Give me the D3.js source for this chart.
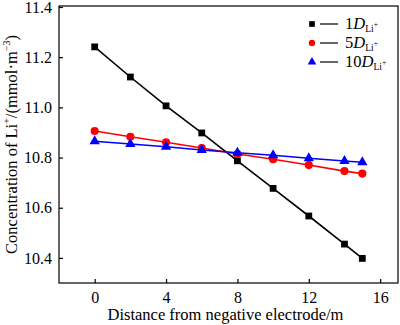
<!DOCTYPE html>
<html>
<head>
<meta charset="utf-8">
<script src="https://cdn.jsdelivr.net/npm/d3@7"></script>
<style>
  body { margin: 0; background: #fff; }
</style>
</head>
<body>
<div id="chart"></div>
<script>
const distance = [0, 2, 4, 6, 8, 10, 12, 14, 15];
const d1 = [11.241, 11.121, 11.006, 10.898, 10.787, 10.677, 10.567, 10.455, 10.398];
const d5 = [10.906, 10.883, 10.861, 10.838, 10.814, 10.793, 10.770, 10.746, 10.736];
const d10 = [10.865, 10.854, 10.843, 10.830, 10.819, 10.809, 10.797, 10.786, 10.781];
const xTicks = [0, 4, 8, 12, 16];
const yTicks = [10.4, 10.6, 10.8, 11.0, 11.2, 11.4];

const series = [
  { name: "1", values: d1, color: "#000000", symbol: d3.symbolSquare },
  { name: "5", values: d5, color: "#ff0000", symbol: d3.symbolCircle },
  { name: "10", values: d10, color: "#0000ff", symbol: d3.symbolTriangle },
];

const FONT = "'Liberation Serif', 'Times New Roman', serif";
const W = 400, H = 325;
const margin = { top: 6, right: 2, bottom: 42, left: 59 };

const svg = d3.select("#chart").append("svg")
  .attr("width", W).attr("height", H)
  .style("font-family", FONT);

const x = d3.scaleLinear().domain([-2, 17]).range([margin.left, W - margin.right]);
const y = d3.scaleLinear().domain([10.3, 11.4]).range([H - margin.bottom, margin.top + 1]);

// frame
svg.append("rect")
  .attr("x", margin.left).attr("y", margin.top)
  .attr("width", W - margin.right - margin.left)
  .attr("height", H - margin.bottom - margin.top)
  .attr("fill", "none").attr("stroke", "#000").attr("stroke-width", 1.2);

const xAxis = svg.append("g")
  .attr("transform", `translate(0,${H - margin.bottom})`)
  .call(d3.axisBottom(x).tickValues(xTicks).tickSizeInner(-4).tickSizeOuter(0).tickPadding(9));
const yAxis = svg.append("g")
  .attr("transform", `translate(${margin.left},0)`)
  .call(d3.axisLeft(y).tickValues(yTicks).tickFormat(d3.format(".1f")).tickSizeInner(-4).tickSizeOuter(0).tickPadding(7));

[xAxis, yAxis].forEach(g => {
  g.attr("font-family", FONT).attr("font-size", 16);
  g.select(".domain").remove();
  g.selectAll("line").attr("stroke", "#000").attr("stroke-width", 1.2);
  g.selectAll("text").style("font-family", FONT).style("font-size", "16px").attr("fill", "#000");
});

const line = d3.line().x((d, i) => x(distance[i])).y(d => y(d));

series.forEach(s => {
  svg.append("path")
    .datum(s.values)
    .attr("d", line)
    .attr("fill", "none")
    .attr("stroke", s.color)
    .attr("stroke-width", 1.6);
  svg.selectAll(null)
    .data(s.values)
    .enter()
    .append("path")
    .attr("d", d3.symbol().type(s.symbol).size(s.symbol === d3.symbolCircle ? 52 : 46))
    .attr("transform", (d, i) => `translate(${x(distance[i])},${y(d)})`)
    .attr("fill", s.color);
});

// legend
const legend = svg.append("g").attr("transform", "translate(312,24)");
series.forEach((s, i) => {
  const g = legend.append("g").attr("transform", `translate(0,${i * 19})`);
  g.append("path").attr("d", d3.symbol().type(s.symbol).size(32)).attr("fill", s.color);
  g.append("line").attr("x1", 8).attr("x2", 26).attr("y1", 0).attr("y2", 0)
    .attr("stroke", "#000").attr("stroke-width", 1.2);
  const t = g.append("text").attr("x", 33).attr("y", 5).style("font-size", "16.5px");
  t.append("tspan").text(s.name);
  t.append("tspan").attr("font-style", "italic").text("D");
  t.append("tspan").style("font-size", "9.5px").attr("dy", 3).text("Li");
  t.append("tspan").style("font-size", "7.5px").attr("dy", -5).text("+");
});

// axis titles
svg.append("text")
  .attr("x", (margin.left + W - margin.right) / 2 - 3)
  .attr("y", H - 5)
  .attr("text-anchor", "middle")
  .style("font-size", "16.5px")
  .text("Distance from negative electrode/m");

const yl = svg.append("text")
  .attr("transform", `translate(17,${(margin.top + H - margin.bottom) / 2}) rotate(-90)`)
  .attr("text-anchor", "middle")
  .style("font-size", "16.5px");
yl.append("tspan").text("Concentration of Li");
yl.append("tspan").style("font-size", "10px").attr("dy", -7).text("+");
yl.append("tspan").attr("dy", 7).text("/(mmol\u00b7m");
yl.append("tspan").style("font-size", "10px").attr("dy", -7).text("\u22123");
yl.append("tspan").attr("dy", 7).text(")");
</script>
</body>
</html>
